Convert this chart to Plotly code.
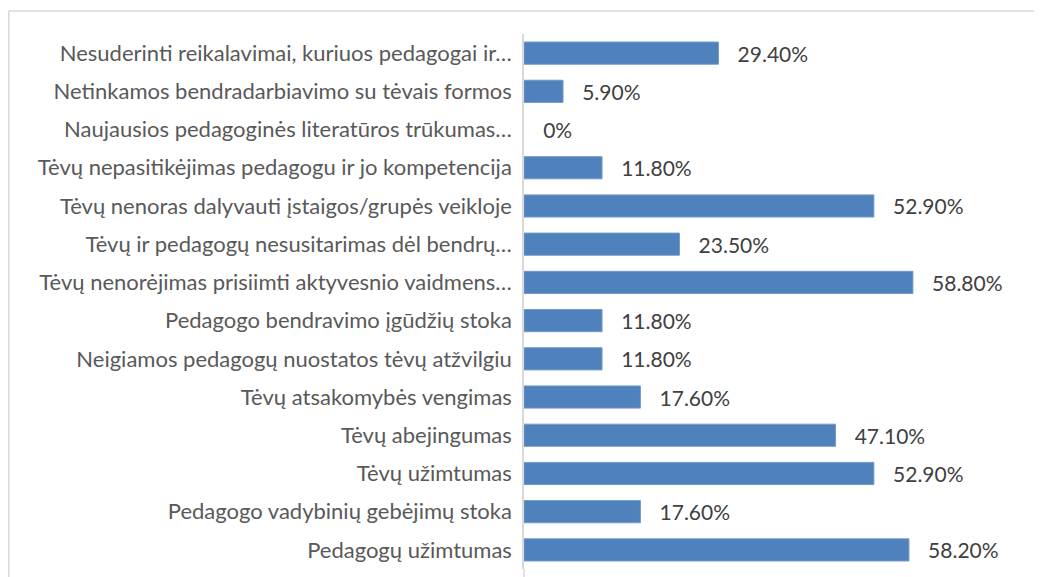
import plotly.graph_objects as go

categories = [
    "Nesuderinti reikalavimai, kuriuos pedagogai ir…",
    "Netinkamos bendradarbiavimo su tėvais formos",
    "Naujausios pedagoginės literatūros trūkumas…",
    "Tėvų nepasitikėjimas pedagogu ir jo kompetencija",
    "Tėvų nenoras dalyvauti įstaigos/grupės veikloje",
    "Tėvų ir pedagogų nesusitarimas dėl bendrų…",
    "Tėvų nenorėjimas prisiimti aktyvesnio vaidmens…",
    "Pedagogo bendravimo įgūdžių stoka",
    "Neigiamos pedagogų nuostatos tėvų atžvilgiu",
    "Tėvų atsakomybės vengimas",
    "Tėvų abejingumas",
    "Tėvų užimtumas",
    "Pedagogo vadybinių gebėjimų stoka",
    "Pedagogų užimtumas",
]
values = [29.4, 5.9, 0, 11.8, 52.9, 23.5, 58.8, 11.8, 11.8, 17.6, 47.1, 52.9, 17.6, 58.2]
value_labels = ["29.40%", "5.90%", "0%", "11.80%", "52.90%", "23.50%", "58.80%",
                "11.80%", "11.80%", "17.60%", "47.10%", "52.90%", "17.60%", "58.20%"]

# page body has an 8px margin, so the figure is sized to fill the rest
W, H = 1034, 569
L, R, T, B = 516, 55, 26, 8
pw = W - L - R
ph = H - T - B

fig = go.Figure(go.Bar(
    x=values, y=categories, orientation="h",
    marker=dict(color="#4f81bd",
                line=dict(color="#7399c9", width=[1 if v > 0 else 0 for v in values])),
    text=["   " + s for s in value_labels], textposition="outside",
    textfont=dict(family="Lato", size=21, color="#404040"),
    constraintext="none",
    cliponaxis=False, width=0.58,
))

top_y = (H - B - 3) / ph
left_x = (0.75 - L) / pw

fig.update_layout(
    width=W, height=H,
    margin=dict(l=L, r=R, t=T, b=B, autoexpand=False),
    paper_bgcolor="white", plot_bgcolor="white",
    showlegend=False,
    xaxis=dict(range=[0, 70], visible=False, showgrid=False, zeroline=False, automargin=False),
    yaxis=dict(autorange="reversed", showline=True, linecolor="#d9d9d9", linewidth=1.5,
               ticks="outside", ticklen=6, tickcolor="rgba(0,0,0,0)", automargin=False,
               tickfont=dict(family="Lato", size=22, color="#595959"),
               showgrid=False, zeroline=False),
    shapes=[
        dict(type="line", xref="paper", yref="paper",
             x0=left_x, x1=(W - L + 10) / pw, y0=top_y, y1=top_y,
             line=dict(color="#d9d9d9", width=1.5)),
        dict(type="line", xref="paper", yref="paper",
             x0=left_x, x1=left_x, y0=-0.1, y1=top_y,
             line=dict(color="#d9d9d9", width=1.5)),
        dict(type="line", xref="paper", yref="paper",
             x0=0, x1=0, y0=-0.1, y1=0,
             line=dict(color="#d9d9d9", width=1.5)),
    ],
)

fig.write_html("out.html")
